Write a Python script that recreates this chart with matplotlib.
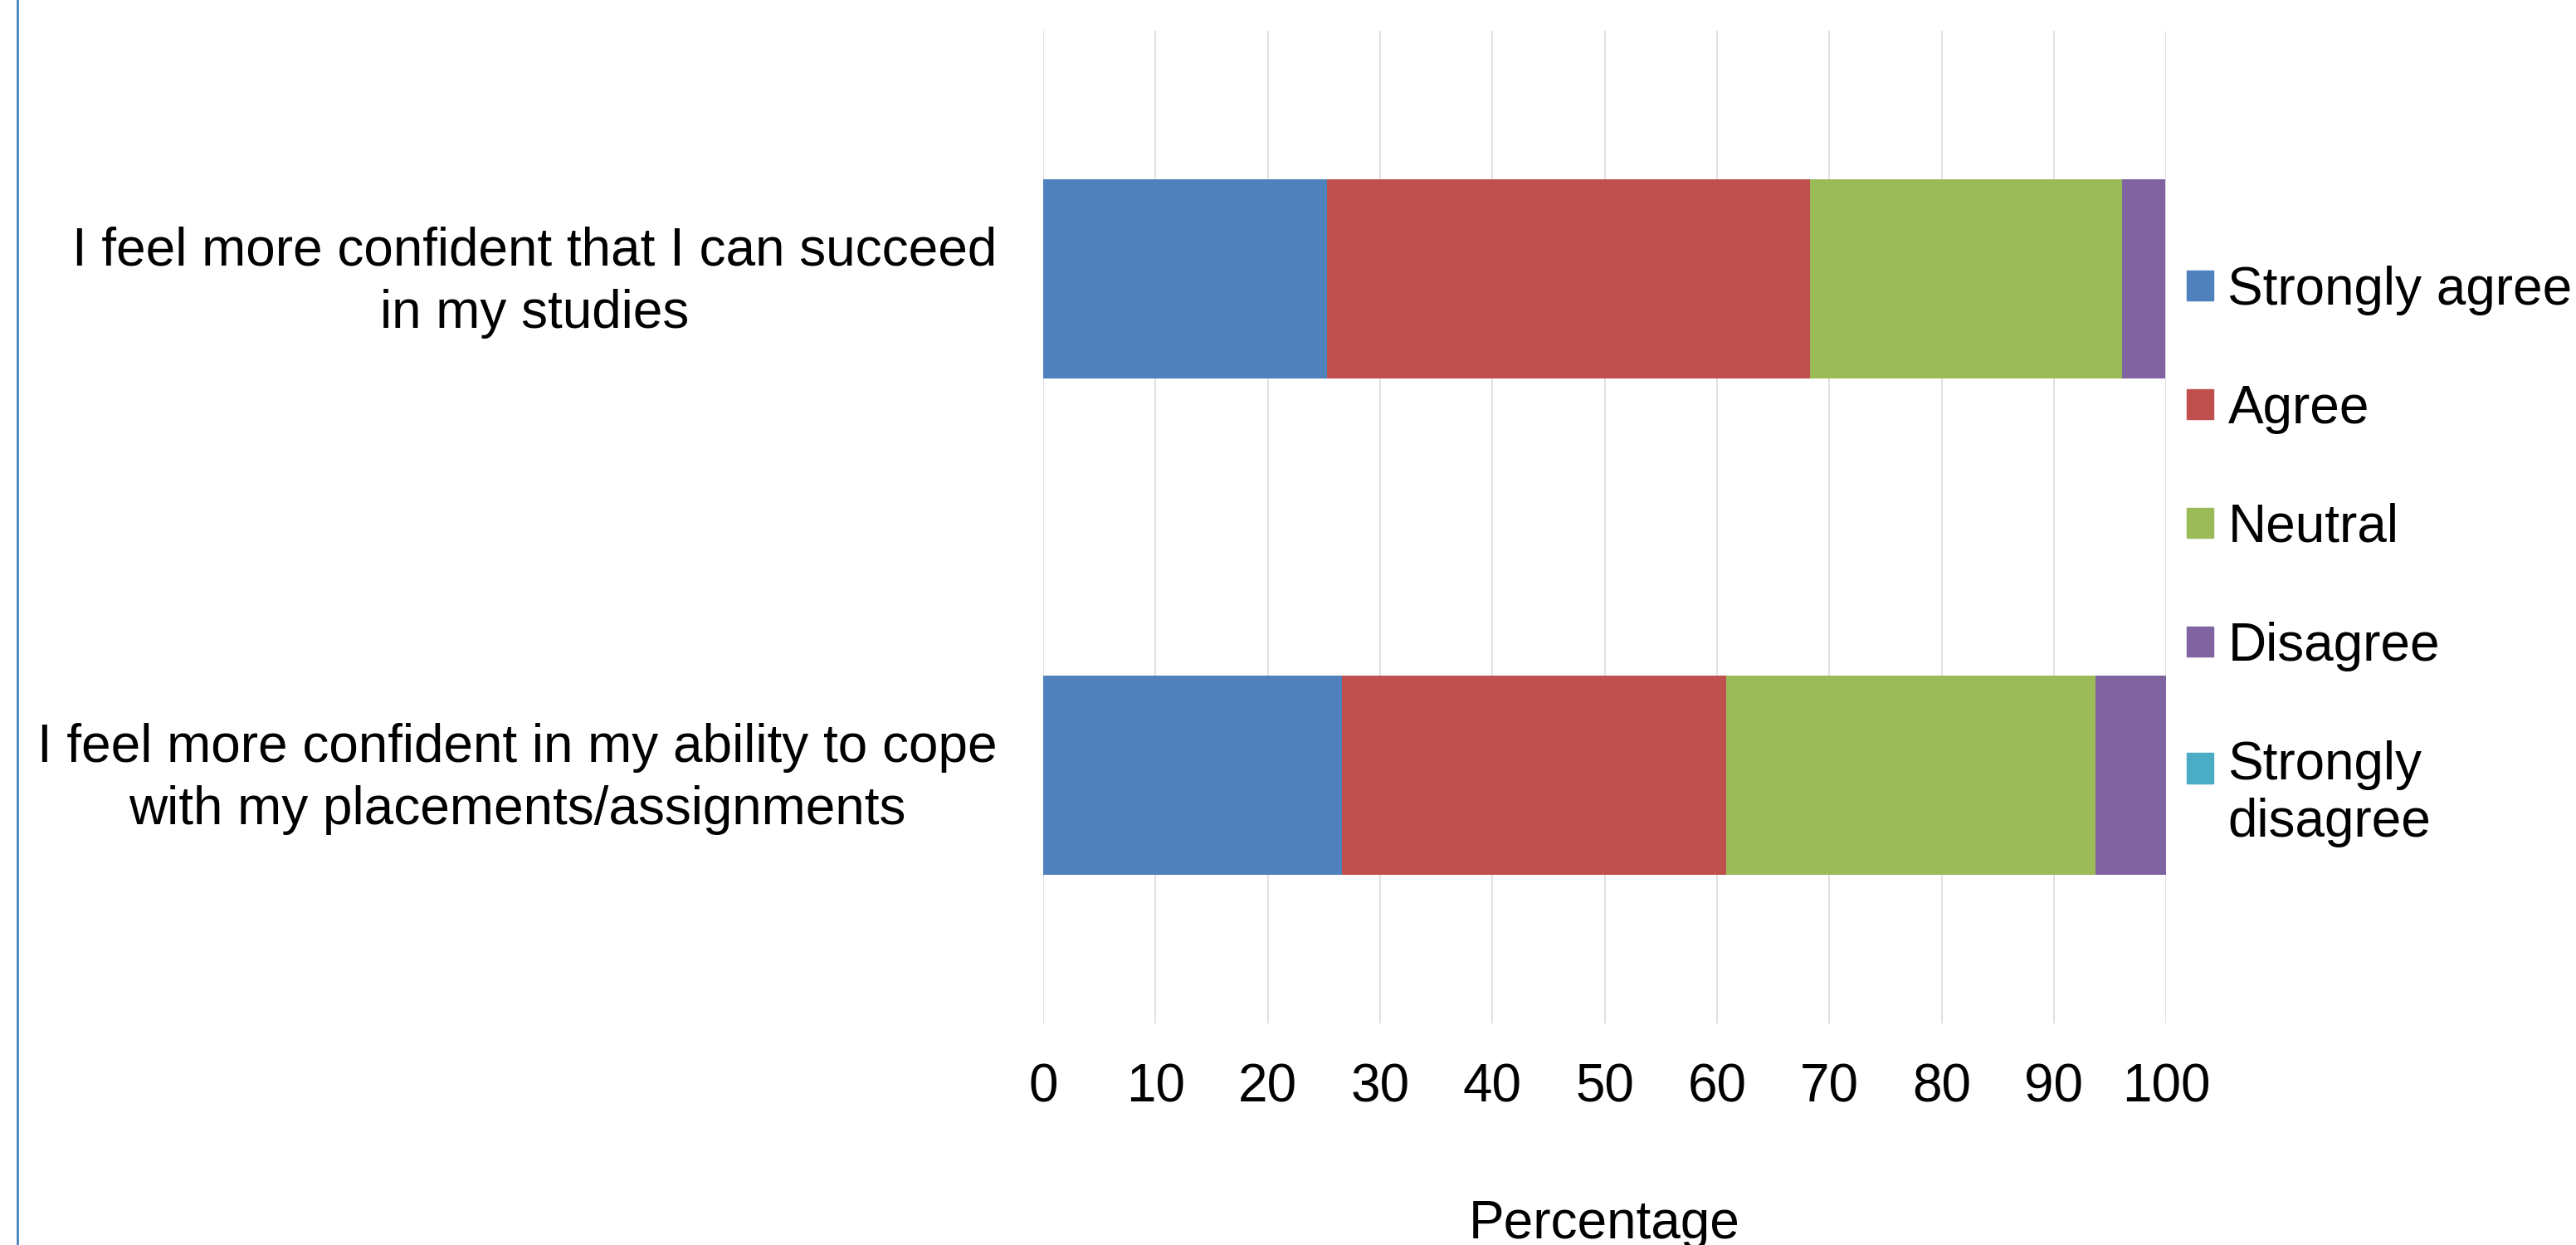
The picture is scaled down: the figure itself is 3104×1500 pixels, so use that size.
import numpy as np
from matplotlib import pyplot as plt
from matplotlib.lines import Line2D
from matplotlib.patches import Rectangle
from matplotlib.legend_handler import HandlerPatch
from matplotlib.transforms import ScaledTranslation

# survey statements (top to bottom)
statements = ['I feel more confident that I can succeed\nin my studies',
              'I feel more confident in my ability to cope\nwith my placements/assignments']

# response categories
responses = ['Strongly agree', 'Agree', 'Neutral', 'Disagree', 'Strongly disagree']
legend_labels = ['Strongly agree', 'Agree', 'Neutral', 'Disagree', 'Strongly\ndisagree']

# percentage of respondents per statement
strongly_agree = [25.3, 26.6]
agree = [43.0, 34.2]
neutral = [27.8, 32.9]
disagree = [3.8, 6.3]
strongly_disagree = [0.0, 0.0]

colors = ['#4F81BD', '#C0504D', '#9BBB59', '#8064A2', '#4BACC6']
x_ticks = list(range(0, 101, 10))
FS = 46

plt.rcParams['font.family'] = ['Liberation Sans', 'DejaVu Sans']

fig = plt.figure(figsize=(31.04, 15), dpi=100)
ax = fig.add_axes([0.405, 0.178, 0.4359, 0.7973])

series = [strongly_agree, agree, neutral, disagree, strongly_disagree]
y = np.arange(len(statements))
left = np.zeros(len(statements))
for name, vals, c in zip(responses, series, colors):
    ax.barh(y, vals, left=left, height=0.4, color=c, label=name, zorder=2)
    left += np.array(vals)

ax.set_ylim(len(statements) - 0.5, -0.5)
ax.set_xlim(0, 100)
ax.set_xticks(x_ticks)
ax.set_yticks(y)
ax.tick_params(axis='x', length=0, pad=34, labelsize=FS)
ax.tick_params(axis='y', length=0, pad=40)
ax.set_yticklabels(statements, fontsize=FS)
# statement labels: centred lines, nudged up a little
nudge = ScaledTranslation(0, 7 / 72, fig.dpi_scale_trans)
for t in ax.get_yticklabels():
    t.set_multialignment('center')
    t.set_linespacing(1.32)
    t.set_transform(t.get_transform() + nudge)

ax.grid(axis='x', color='#D9D9D9', linewidth=1.1, zorder=0)
ax.set_axisbelow(True)
for s in ax.spines.values():
    s.set_visible(False)

ax.set_xlabel('Percentage', fontsize=FS, va='center')
ax.xaxis.set_label_coords(0.5, -0.2023)


# square marker sitting on the first line of a wrapped label
def top_square(legend, orig_handle, xdescent, ydescent, width, height, fontsize):
    return Rectangle((-xdescent, -ydescent + 0.5 * fontsize), width, height)


handles = [Rectangle((0, 0), 1, 1, color=c) for c in colors]
fig.legend(handles, legend_labels, loc='center left',
           bbox_to_anchor=(0.849, 0.553), frameon=False, fontsize=FS,
           handlelength=0.5, handleheight=0.5, handletextpad=0.27,
           labelspacing=1.3, borderpad=0, borderaxespad=0,
           handler_map={handles[-1]: HandlerPatch(patch_func=top_square)})

# thin blue rule along the left edge
fig.add_artist(Line2D([0.0068, 0.0068], [0, 1], color='#2E75B6', linewidth=1.8))

fig.savefig('out.png', dpi=100)
